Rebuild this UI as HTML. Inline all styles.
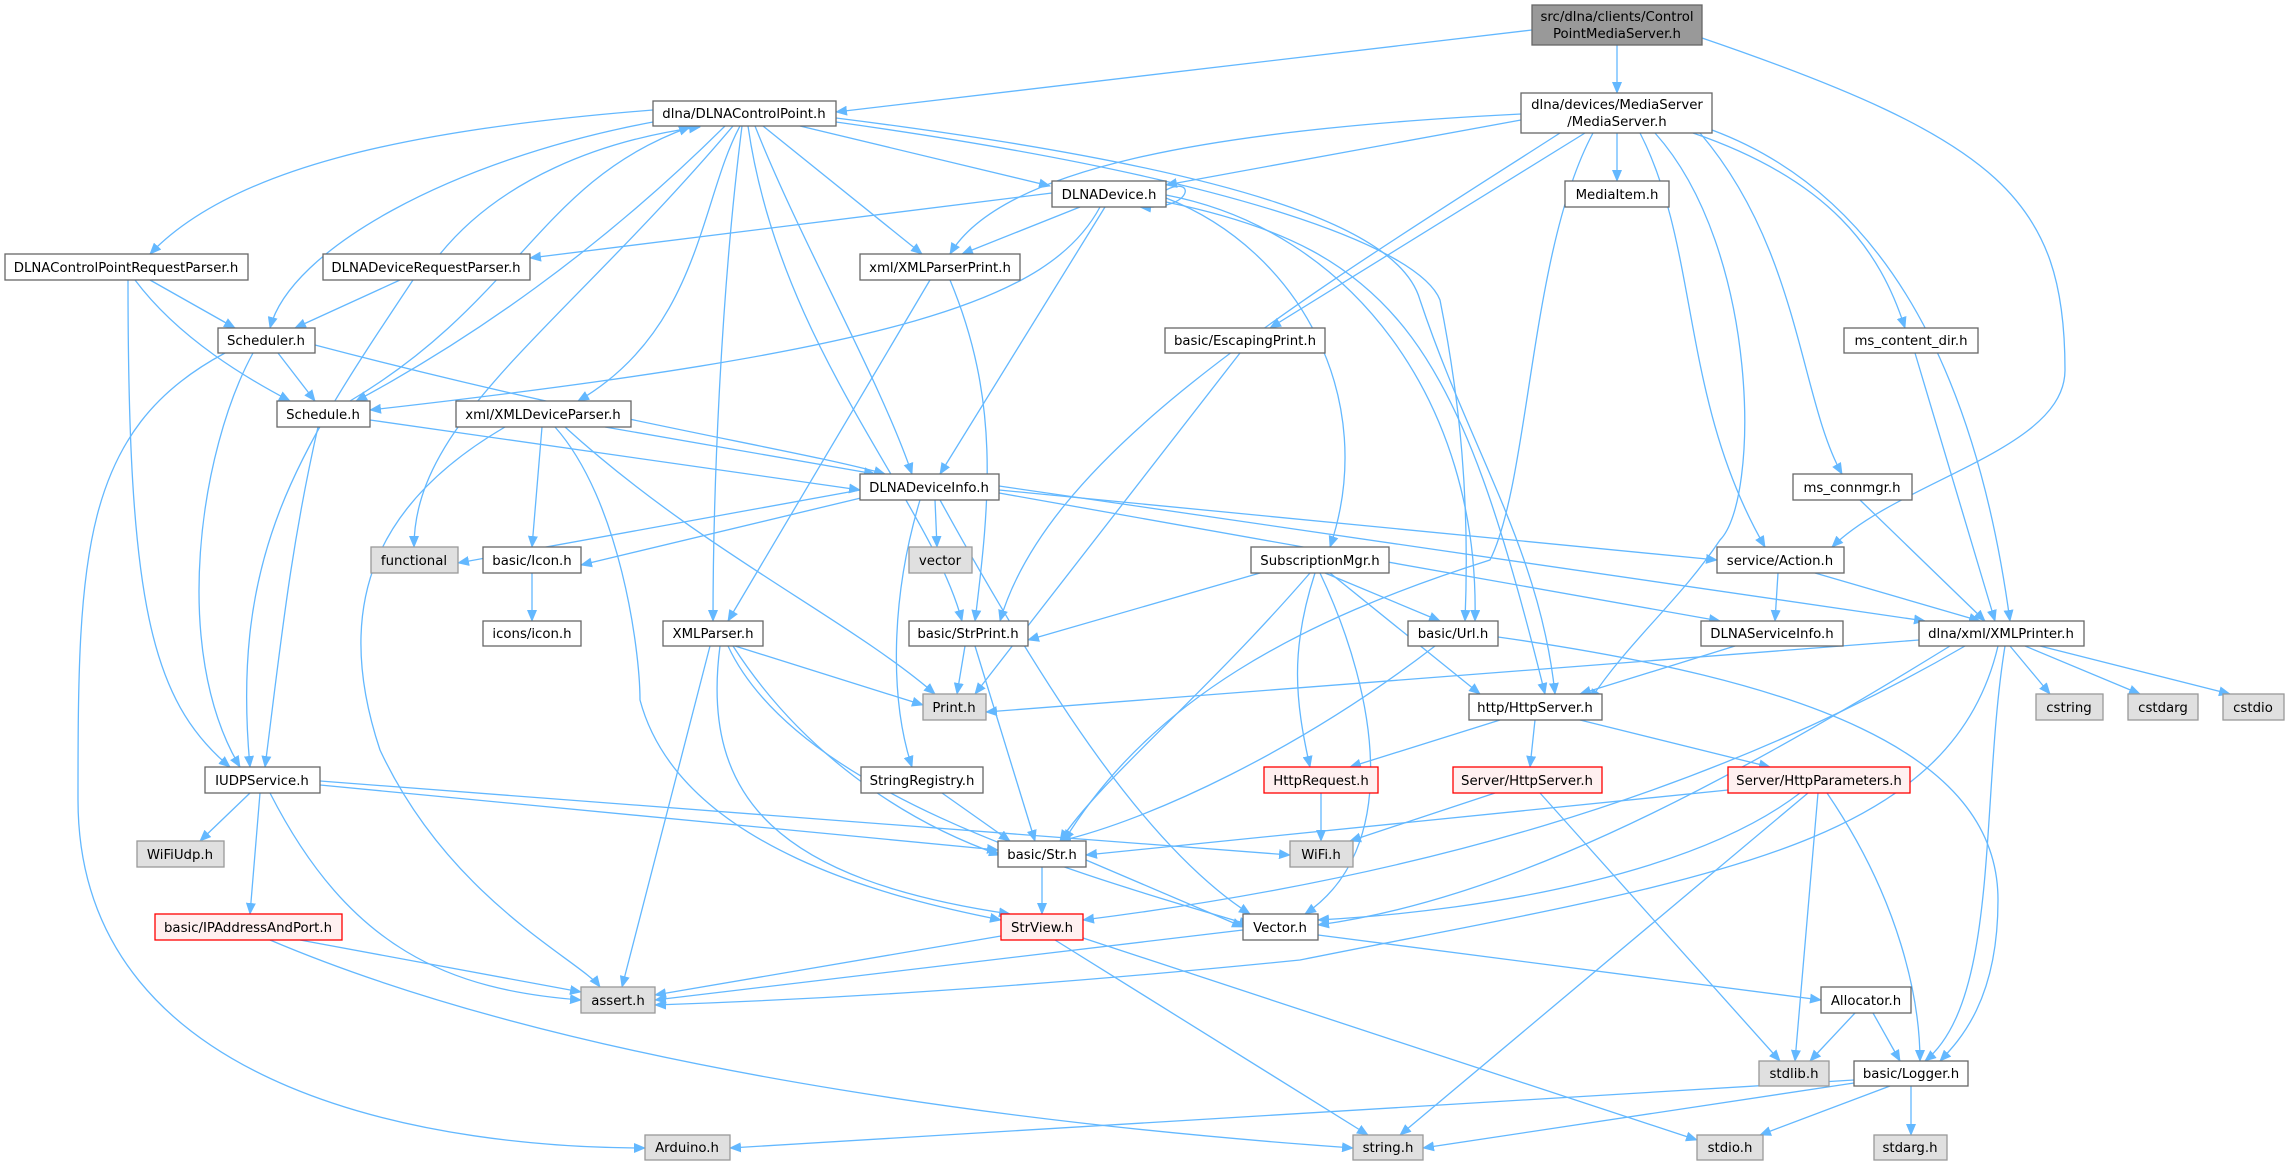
<!DOCTYPE html>
<html><head><meta charset="utf-8"><style>
html,body{margin:0;padding:0;background:#fff;}
svg{display:block;}
text{font-family:"DejaVu Sans","Liberation Sans",sans-serif;font-size:13.3px;fill:#000;text-anchor:middle;}
.e{fill:none;stroke:#63b8ff;stroke-width:1.3;marker-end:url(#a);}
.n{fill:#fff;stroke:#666;stroke-width:1.3;}
.g{fill:#e0e0e0;stroke:#999;stroke-width:1.3;}
.r{fill:#fff0f0;stroke:#f00;stroke-width:1.3;}
.t{fill:#999;stroke:#666;stroke-width:1.3;}
</style></head><body>
<svg width="2291" height="1165" viewBox="0 0 2291 1165" xmlns="http://www.w3.org/2000/svg">
<defs><marker id="a" markerWidth="12" markerHeight="10" refX="11" refY="5" orient="auto" markerUnits="userSpaceOnUse"><path d="M0,0 L12,5 L0,10 z" fill="#63b8ff"/></marker></defs>
<g>
<path class="e" d="M1532,30 L836,112"/>
<path class="e" d="M1617,45 L1617,93"/>
<path class="e" d="M1702,38 C2000,140 2065,200 2065,370 C2065,450 1900,480 1832,547"/>
<path class="e" d="M653,110 C400,130 230,170 150,254"/>
<path class="e" d="M653,122 C450,160 290,250 270,328"/>
<path class="e" d="M440,254 C500,180 600,140 700,127"/>
<path class="e" d="M350,401 C520,300 540,180 690,127"/>
<path class="e" d="M725,126 C600,250 470,340 356,401"/>
<path class="e" d="M733,126 C560,330 414,420 414,547"/>
<path class="e" d="M740,126 C700,200 700,330 578,401"/>
<path class="e" d="M742,126 C720,300 713,500 713,621"/>
<path class="e" d="M748,126 C780,350 930,500 962,621"/>
<path class="e" d="M755,126 C800,240 880,380 912,474"/>
<path class="e" d="M763,126 L922,254"/>
<path class="e" d="M800,126 L1050,186"/>
<path class="e" d="M836,118 C1250,170 1400,230 1420,300 C1470,450 1540,550 1555,694"/>
<path class="e" d="M836,122 C1250,180 1420,250 1440,300 C1460,400 1470,500 1465,621"/>
<path class="e" d="M1166,190 C1195,175 1195,210 1140,207"/>
<path class="e" d="M1052,193 L530,258"/>
<path class="e" d="M1080,207 L962,254"/>
<path class="e" d="M1100,207 C1050,300 900,350 370,410"/>
<path class="e" d="M1105,207 L940,474"/>
<path class="e" d="M1166,198 C1300,250 1380,400 1330,547"/>
<path class="e" d="M1166,195 C1350,230 1480,400 1475,621"/>
<path class="e" d="M1166,202 C1400,250 1460,350 1545,694"/>
<path class="e" d="M1521,120 L1166,185"/>
<path class="e" d="M1521,114 C1200,130 1000,170 950,254"/>
<path class="e" d="M1585,133 L1270,328"/>
<path class="e" d="M1560,133 C1300,300 1050,450 1000,621"/>
<path class="e" d="M1593,133 C1530,250 1530,480 1490,560 C1300,620 1150,700 1064,841"/>
<path class="e" d="M1617,133 L1617,181"/>
<path class="e" d="M1640,133 C1700,250 1680,400 1765,547"/>
<path class="e" d="M1655,133 C1760,250 1760,500 1720,540 C1680,600 1630,640 1590,700"/>
<path class="e" d="M1693,133 C1830,180 1880,250 1905,328"/>
<path class="e" d="M1700,133 C1800,250 1800,400 1842,474"/>
<path class="e" d="M1712,130 C1900,200 1980,400 2010,621"/>
<path class="e" d="M1240,353 L975,694"/>
<path class="e" d="M1915,353 L1995,621"/>
<path class="e" d="M1860,500 L1985,621"/>
<path class="e" d="M930,280 L728,621"/>
<path class="e" d="M950,280 C1000,400 990,500 975,621"/>
<path class="e" d="M150,280 L235,328"/>
<path class="e" d="M135,280 C180,340 250,380 290,401"/>
<path class="e" d="M128,280 C128,600 150,700 230,767"/>
<path class="e" d="M400,280 L295,328"/>
<path class="e" d="M413,280 C300,450 230,550 250,767"/>
<path class="e" d="M278,353 L315,401"/>
<path class="e" d="M315,345 C600,420 800,450 885,474"/>
<path class="e" d="M253,353 C200,450 170,650 240,767"/>
<path class="e" d="M225,353 C80,430 78,560 78,800 C78,1100 450,1148 645,1148"/>
<path class="e" d="M370,420 L860,490"/>
<path class="e" d="M318,427 C290,550 280,650 265,767"/>
<path class="e" d="M605,427 L875,474"/>
<path class="e" d="M542,427 L532,547"/>
<path class="e" d="M505,427 C380,500 330,600 380,750 C450,900 580,960 600,987"/>
<path class="e" d="M565,427 C700,550 850,620 935,694"/>
<path class="e" d="M555,427 C620,500 640,650 640,700 C680,850 900,900 1001,920"/>
<path class="e" d="M860,490 L458,563"/>
<path class="e" d="M865,497 L581,565"/>
<path class="e" d="M935,500 L937,547"/>
<path class="e" d="M920,500 C890,600 890,700 912,767"/>
<path class="e" d="M940,500 C1050,700 1150,850 1250,914"/>
<path class="e" d="M999,490 L1717,560"/>
<path class="e" d="M999,493 L1720,621"/>
<path class="e" d="M999,486 L1925,621"/>
<path class="e" d="M532,573 L532,621"/>
<path class="e" d="M1260,573 L1028,640"/>
<path class="e" d="M1325,573 L1440,621"/>
<path class="e" d="M1330,573 L1480,694"/>
<path class="e" d="M1315,573 C1290,650 1295,700 1310,767"/>
<path class="e" d="M1310,573 C1200,700 1100,780 1060,841"/>
<path class="e" d="M1320,573 C1380,700 1400,850 1305,914"/>
<path class="e" d="M1778,573 L1775,621"/>
<path class="e" d="M1815,573 L1980,621"/>
<path class="e" d="M735,646 L923,705"/>
<path class="e" d="M710,646 L622,987"/>
<path class="e" d="M733,646 C800,750 900,820 1000,855"/>
<path class="e" d="M720,646 C700,800 780,880 1010,914"/>
<path class="e" d="M728,646 C800,800 1100,880 1250,925"/>
<path class="e" d="M965,646 L957,694"/>
<path class="e" d="M975,646 L1035,841"/>
<path class="e" d="M1435,646 C1300,750 1150,820 1060,841"/>
<path class="e" d="M1498,637 C1800,680 1998,750 1998,900 C1998,1000 1960,1040 1940,1061"/>
<path class="e" d="M1735,646 L1580,694"/>
<path class="e" d="M1919,640 L986,712"/>
<path class="e" d="M2010,646 L2050,694"/>
<path class="e" d="M2025,646 L2140,694"/>
<path class="e" d="M2040,646 L2230,694"/>
<path class="e" d="M1950,646 C1700,800 1500,900 1318,925"/>
<path class="e" d="M1965,646 C1700,800 1400,880 1083,920"/>
<path class="e" d="M1998,646 C1950,850 1700,880 1300,960 C1000,990 800,1000 655,1005"/>
<path class="e" d="M2005,646 C1980,800 2000,1000 1925,1061"/>
<path class="e" d="M1500,720 L1350,767"/>
<path class="e" d="M1535,720 L1530,767"/>
<path class="e" d="M1580,720 L1770,767"/>
<path class="e" d="M250,793 L200,841"/>
<path class="e" d="M260,793 L250,914"/>
<path class="e" d="M270,793 C350,950 450,990 581,1000"/>
<path class="e" d="M320,785 L998,850"/>
<path class="e" d="M320,781 L1290,855"/>
<path class="e" d="M942,793 L1010,841"/>
<path class="e" d="M1321,793 L1321,841"/>
<path class="e" d="M1495,793 L1350,841"/>
<path class="e" d="M1540,793 L1780,1061"/>
<path class="e" d="M1728,790 L1086,855"/>
<path class="e" d="M1800,793 C1700,870 1500,910 1318,920"/>
<path class="e" d="M1808,793 L1400,1135"/>
<path class="e" d="M1818,793 L1795,1061"/>
<path class="e" d="M1827,793 C1900,900 1920,1000 1920,1061"/>
<path class="e" d="M1042,867 L1042,914"/>
<path class="e" d="M1086,860 L1243,927"/>
<path class="e" d="M1001,936 L655,995"/>
<path class="e" d="M1055,940 L1368,1135"/>
<path class="e" d="M1083,938 L1697,1140"/>
<path class="e" d="M1243,930 L655,1000"/>
<path class="e" d="M1318,935 L1821,1000"/>
<path class="e" d="M300,940 L581,992"/>
<path class="e" d="M270,940 C600,1080 1100,1130 1353,1148"/>
<path class="e" d="M1855,1013 L1810,1061"/>
<path class="e" d="M1873,1013 L1900,1061"/>
<path class="e" d="M1854,1080 L730,1148"/>
<path class="e" d="M1854,1083 L1423,1148"/>
<path class="e" d="M1890,1086 L1760,1135"/>
<path class="e" d="M1911,1086 L1911,1135"/>
</g>
<g>
<rect class="t" x="1532" y="5" width="170" height="40"/><text x="1617" y="21">src/dlna/clients/Control</text><text x="1617" y="38">PointMediaServer.h</text>
<rect class="n" x="653" y="101" width="183" height="25"/><text x="744" y="118">dlna/DLNAControlPoint.h</text>
<rect class="n" x="1521" y="93" width="191" height="40"/><text x="1617" y="109">dlna/devices/MediaServer</text><text x="1617" y="126">/MediaServer.h</text>
<rect class="n" x="1052" y="181" width="114" height="26"/><text x="1109" y="199">DLNADevice.h</text>
<rect class="n" x="1565" y="181" width="104" height="26"/><text x="1617" y="199">MediaItem.h</text>
<rect class="n" x="5" y="254" width="243" height="26"/><text x="126" y="272">DLNAControlPointRequestParser.h</text>
<rect class="n" x="323" y="254" width="207" height="26"/><text x="426" y="272">DLNADeviceRequestParser.h</text>
<rect class="n" x="860" y="254" width="160" height="26"/><text x="940" y="272">xml/XMLParserPrint.h</text>
<rect class="n" x="218" y="328" width="97" height="25"/><text x="266" y="345">Scheduler.h</text>
<rect class="n" x="1165" y="328" width="160" height="25"/><text x="1245" y="345">basic/EscapingPrint.h</text>
<rect class="n" x="1844" y="328" width="134" height="25"/><text x="1911" y="345">ms_content_dir.h</text>
<rect class="n" x="277" y="401" width="93" height="26"/><text x="323" y="419">Schedule.h</text>
<rect class="n" x="456" y="401" width="175" height="26"/><text x="543" y="419">xml/XMLDeviceParser.h</text>
<rect class="n" x="860" y="474" width="139" height="26"/><text x="929" y="492">DLNADeviceInfo.h</text>
<rect class="n" x="1793" y="474" width="119" height="26"/><text x="1852" y="492">ms_connmgr.h</text>
<rect class="g" x="371" y="547" width="87" height="26"/><text x="414" y="565">functional</text>
<rect class="n" x="483" y="547" width="98" height="26"/><text x="532" y="565">basic/Icon.h</text>
<rect class="g" x="909" y="547" width="63" height="26"/><text x="940" y="565">vector</text>
<rect class="n" x="1251" y="547" width="138" height="26"/><text x="1320" y="565">SubscriptionMgr.h</text>
<rect class="n" x="1717" y="547" width="127" height="26"/><text x="1780" y="565">service/Action.h</text>
<rect class="n" x="483" y="621" width="98" height="25"/><text x="532" y="638">icons/icon.h</text>
<rect class="n" x="663" y="621" width="100" height="25"/><text x="713" y="638">XMLParser.h</text>
<rect class="n" x="909" y="621" width="119" height="25"/><text x="968" y="638">basic/StrPrint.h</text>
<rect class="n" x="1408" y="621" width="90" height="25"/><text x="1453" y="638">basic/Url.h</text>
<rect class="n" x="1701" y="621" width="142" height="25"/><text x="1772" y="638">DLNAServiceInfo.h</text>
<rect class="n" x="1919" y="621" width="165" height="25"/><text x="2001" y="638">dlna/xml/XMLPrinter.h</text>
<rect class="g" x="923" y="694" width="63" height="26"/><text x="954" y="712">Print.h</text>
<rect class="n" x="1469" y="694" width="133" height="26"/><text x="1535" y="712">http/HttpServer.h</text>
<rect class="g" x="2036" y="694" width="67" height="26"/><text x="2069" y="712">cstring</text>
<rect class="g" x="2128" y="694" width="70" height="26"/><text x="2163" y="712">cstdarg</text>
<rect class="g" x="2223" y="694" width="61" height="26"/><text x="2253" y="712">cstdio</text>
<rect class="n" x="205" y="767" width="115" height="26"/><text x="262" y="785">IUDPService.h</text>
<rect class="n" x="861" y="767" width="122" height="26"/><text x="922" y="785">StringRegistry.h</text>
<rect class="r" x="1264" y="767" width="114" height="26"/><text x="1321" y="785">HttpRequest.h</text>
<rect class="r" x="1453" y="767" width="149" height="26"/><text x="1527" y="785">Server/HttpServer.h</text>
<rect class="r" x="1728" y="767" width="182" height="26"/><text x="1819" y="785">Server/HttpParameters.h</text>
<rect class="g" x="137" y="841" width="87" height="26"/><text x="180" y="859">WiFiUdp.h</text>
<rect class="n" x="998" y="841" width="88" height="26"/><text x="1042" y="859">basic/Str.h</text>
<rect class="g" x="1290" y="841" width="63" height="26"/><text x="1321" y="859">WiFi.h</text>
<rect class="r" x="155" y="914" width="187" height="26"/><text x="248" y="932">basic/IPAddressAndPort.h</text>
<rect class="r" x="1001" y="914" width="82" height="26"/><text x="1042" y="932">StrView.h</text>
<rect class="n" x="1243" y="914" width="75" height="26"/><text x="1280" y="932">Vector.h</text>
<rect class="g" x="581" y="987" width="74" height="26"/><text x="618" y="1005">assert.h</text>
<rect class="n" x="1821" y="987" width="90" height="26"/><text x="1866" y="1005">Allocator.h</text>
<rect class="g" x="1759" y="1061" width="70" height="25"/><text x="1794" y="1078">stdlib.h</text>
<rect class="n" x="1854" y="1061" width="114" height="25"/><text x="1911" y="1078">basic/Logger.h</text>
<rect class="g" x="645" y="1135" width="85" height="25"/><text x="687" y="1152">Arduino.h</text>
<rect class="g" x="1353" y="1135" width="70" height="25"/><text x="1388" y="1152">string.h</text>
<rect class="g" x="1697" y="1135" width="66" height="25"/><text x="1730" y="1152">stdio.h</text>
<rect class="g" x="1874" y="1135" width="73" height="25"/><text x="1910" y="1152">stdarg.h</text>
</g>
</svg>
</body></html>
